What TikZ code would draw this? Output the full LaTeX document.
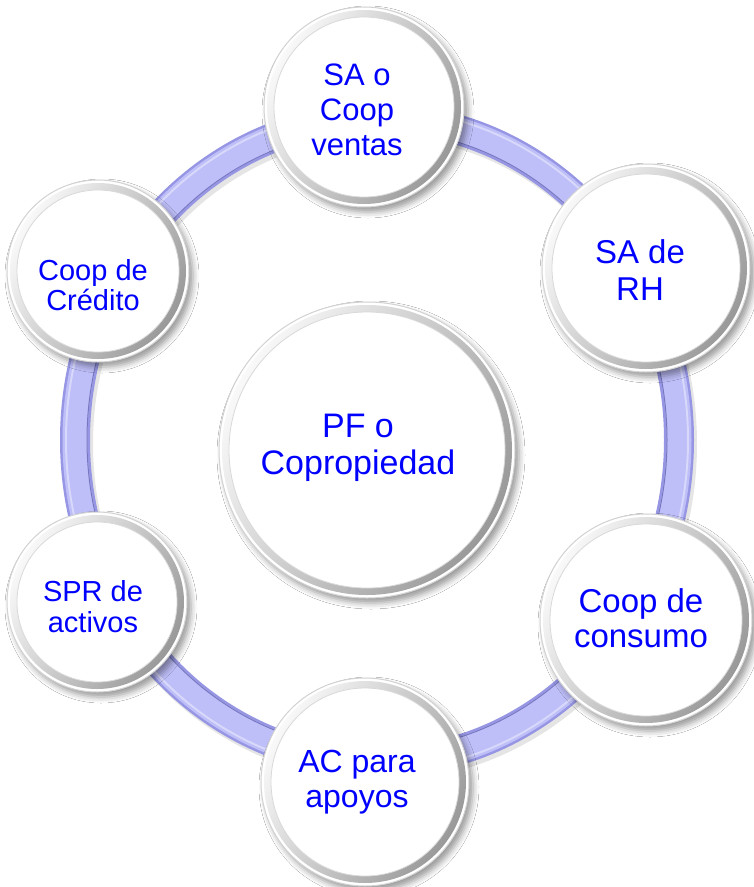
\documentclass[tikz,border=0pt]{standalone}
\usepackage{fontspec}
\setmainfont{Liberation Sans}
\usetikzlibrary{shadows.blur}
\definecolor{ringmid}{RGB}{190,190,248}
\definecolor{ringedge}{RGB}{150,150,228}
\definecolor{ringdark}{RGB}{90,90,160}
\definecolor{txtblue}{RGB}{0,0,255}
\tikzset{
  bubble/.style={circle, inner sep=0pt, fill=white, draw=gray!35, line width=1pt,
    blur shadow={shadow xshift=4pt, shadow yshift=-5pt, shadow blur radius=6pt, shadow opacity=40}},
  rimshade/.style={left color=gray!5, right color=gray!80, shading angle=60},
  lbl/.style={text=txtblue, align=center, inner sep=0pt},
}
\newcommand\mybubble[4]{%
  \node[bubble, minimum size={2*#4 pt}] (#1) at (#2,#3) {};
  \shade[rimshade] (#1.center) circle[radius=#4-3];
  \fill[white] (#1.center) circle[radius=#4-10];
  \draw[gray!30, line width=0.8pt] (#1.center) circle[radius=#4-10];
}
\begin{document}
\begin{tikzpicture}[x=1pt,y=-1pt]
  \useasboundingbox[fill=white] (0,0) rectangle (754,887);
  % ring
  \draw[black, opacity=0.10, line width=30pt] (380,444) ellipse[x radius=302, y radius=322];
  \draw[ringedge, line width=30pt] (377,440) ellipse[x radius=302, y radius=322];
  \draw[ringmid, line width=25pt] (377,440) ellipse[x radius=302, y radius=322];
  \draw[ringdark!50!ringedge, line width=1pt] (377,440) ellipse[x radius=290, y radius=310];
  \draw[white!40!ringmid, line width=2pt] (377,440) ellipse[x radius=311, y radius=331];
  % bubbles
  \mybubble{cTop}{364}{107}{100}
  \mybubble{cRH}{646}{268}{104}
  \mybubble{cCons}{646}{620}{106}
  \mybubble{cAC}{365}{782}{104}
  \mybubble{cSPR}{97}{602}{90}
  \mybubble{cCred}{98}{271}{91}
  \mybubble{cPF}{367}{450}{148}
  % labels
  \node[lbl, font=\fontsize{31}{35}\selectfont] (tTop) at (357,110) {SA o\\Coop\\ventas};
  \node[lbl, font=\fontsize{33}{37}\selectfont] (tRH) at (640,270) {SA de\\RH};
  \node[lbl, font=\fontsize{29}{30}\selectfont] (tCred) at (93,285) {Coop de\\Crédito};
  \node[lbl, font=\fontsize{34}{37}\selectfont] (tPF) at (358,448) {PF o\\Copropiedad};
  \node[lbl, font=\fontsize{33}{35}\selectfont] (tCons) at (641,618) {Coop de\\consumo};
  \node[lbl, font=\fontsize{32}{35}\selectfont] (tAC) at (357,782) {AC para\\apoyos};
  \node[lbl, font=\fontsize{29}{31}\selectfont] (tSPR) at (93,607) {SPR de\\activos};
\end{tikzpicture}
\end{document}
